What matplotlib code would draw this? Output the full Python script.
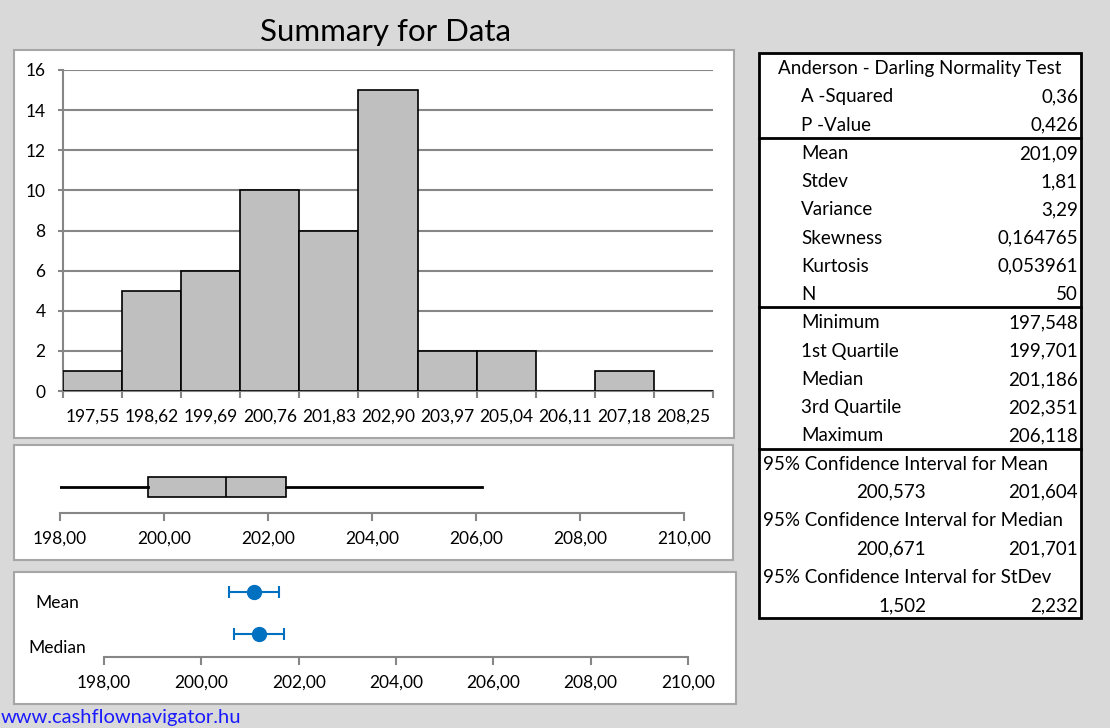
import matplotlib
matplotlib.use("Agg")
import matplotlib.pyplot as plt
from matplotlib.patches import Rectangle
from matplotlib.lines import Line2D

plt.rcParams['font.family'] = ['Lato', 'DejaVu Sans']

# ---------------- data ----------------
bin_labels = ["197,55", "198,62", "199,69", "200,76", "201,83", "202,90",
              "203,97", "205,04", "206,11", "207,18", "208,25"]
bin_counts = [1, 5, 6, 10, 8, 15, 2, 2, 0, 1, 0]

box_min = 197.548
box_q1 = 199.701
box_median = 201.186
box_q3 = 202.351
box_max = 206.118

ci_names = ["Mean", "Median"]
ci_centers = [201.09, 201.186]
ci_low = [200.573, 200.671]
ci_high = [201.604, 201.701]

axis_ticks = [198, 200, 202, 204, 206, 208, 210]

table_rows = [
    ("header", "Anderson - Darling Normality Test", ""),
    ("row", "A -Squared", "0,36"),
    ("row", "P -Value", "0,426"),
    ("row", "Mean", "201,09"),
    ("row", "Stdev", "1,81"),
    ("row", "Variance", "3,29"),
    ("row", "Skewness", "0,164765"),
    ("row", "Kurtosis", "0,053961"),
    ("row", "N", "50"),
    ("row", "Minimum", "197,548"),
    ("row", "1st Quartile", "199,701"),
    ("row", "Median", "201,186"),
    ("row", "3rd Quartile", "202,351"),
    ("row", "Maximum", "206,118"),
    ("ci", "95% Confidence Interval for Mean", ""),
    ("civ", "200,573", "201,604"),
    ("ci", "95% Confidence Interval for Median", ""),
    ("civ", "200,671", "201,701"),
    ("ci", "95% Confidence Interval for StDev", ""),
    ("civ", "1,502", "2,232"),
]
separators_after = [2, 8, 13]

# ---------------- layout helpers ----------------
W, H = 1110, 728
fig = plt.figure(figsize=(W / 100, H / 100), dpi=100)
fig.patch.set_facecolor("#d9d9d9")


def fx(x):
    return x / W


def fy(y):
    return 1 - y / H


def panel(x0, y0, x1, y1):
    fig.patches.append(Rectangle((fx(x0), fy(y1)), fx(x1) - fx(x0), fy(y0) - fy(y1),
                                 transform=fig.transFigure, facecolor="white",
                                 edgecolor="#a6a6a6", linewidth=1.5, zorder=-5))


def add_axes(x0, y0, x1, y1):
    a = fig.add_axes([fx(x0), fy(y1), fx(x1) - fx(x0), fy(y0) - fy(y1)])
    a.set_zorder(2)
    return a


GRAY = "#868686"
TXT = 12.5

# title
fig.text(fx(385), fy(32), "Summary for Data", ha="center", va="center", fontsize=22.5)

# ---------------- histogram ----------------
panel(14, 50, 734, 438)
ax = add_axes(63, 70, 713, 391)
ax.set_facecolor("white")
xs = list(range(len(bin_counts)))
ax.bar(xs, bin_counts, width=1.0, color="#bfbfbf", edgecolor="black", linewidth=1.2, zorder=3)
ax.set_xlim(-0.5, len(bin_counts) - 0.5)
ax.set_ylim(0, 16)
ax.set_yticks(range(0, 17, 2))
ax.yaxis.grid(True, color=GRAY, linewidth=1.5)
ax.set_axisbelow(True)
ax.set_xticks([i - 0.5 for i in range(len(bin_counts) + 1)])
ax.set_xticklabels([])
ax.set_xticks(xs, minor=True)
ax.set_xticklabels(bin_labels, minor=True)
ax.tick_params(axis="x", which="major", direction="out", length=5, color=GRAY, width=1.5)
ax.tick_params(axis="x", which="minor", length=0, pad=12.5, labelsize=TXT)
ax.tick_params(axis="y", direction="out", length=3.6, color=GRAY, width=1.5, labelsize=TXT, pad=9)
for s in ["top", "right"]:
    ax.spines[s].set_visible(False)
for s in ["left", "bottom"]:
    ax.spines[s].set_color(GRAY)
    ax.spines[s].set_linewidth(1.5)

# ---------------- box plot ----------------
panel(14, 445, 733, 560)
bx = add_axes(60, 463, 684, 513)
stats = [dict(med=box_median, q1=box_q1, q3=box_q3, whislo=box_min, whishi=box_max)]
bx.bxp(stats, positions=[0.52], widths=0.4, orientation="horizontal", showfliers=False,
       showcaps=False, patch_artist=True,
       boxprops=dict(facecolor="#bfbfbf", edgecolor="black", linewidth=1.2),
       medianprops=dict(color="black", linewidth=1.2),
       whiskerprops=dict(color="black", linewidth=2))
bx.set_xlim(axis_ticks[0], axis_ticks[-1])
bx.set_ylim(0, 1)
bx.set_yticks([])
bx.set_xticks(axis_ticks)
bx.set_xticklabels([f"{t:.2f}".replace(".", ",") for t in axis_ticks])
bx.tick_params(axis="x", direction="out", length=6, color=GRAY, width=1.5, labelsize=TXT, pad=7)
for s in ["top", "right", "left"]:
    bx.spines[s].set_visible(False)
bx.spines["bottom"].set_color(GRAY)
bx.spines["bottom"].set_linewidth(1.5)
bx.patch.set_visible(False)

# ---------------- CI plot ----------------
panel(14, 572, 736, 704)
cx = add_axes(104, 580, 688, 657)
ypos = [0.844, 0.30]
for c, lo, hi, yv in zip(ci_centers, ci_low, ci_high, ypos):
    cx.errorbar([c], [yv], xerr=[[c - lo], [hi - c]], fmt="o", color="#0070c0",
                markersize=10, capsize=4, elinewidth=1.5, capthick=1.5)
cx.set_xlim(axis_ticks[0], axis_ticks[-1])
cx.set_ylim(0, 1)
cx.set_yticks([])
cx.set_xticks(axis_ticks)
cx.set_xticklabels([f"{t:.2f}".replace(".", ",") for t in axis_ticks])
cx.tick_params(axis="x", direction="out", length=6, color=GRAY, width=1.5, labelsize=TXT, pad=7)
for s in ["top", "right", "left"]:
    cx.spines[s].set_visible(False)
cx.spines["bottom"].set_color(GRAY)
cx.spines["bottom"].set_linewidth(1.5)
cx.patch.set_visible(False)
fig.text(fx(35), fy(603), ci_names[0], ha="left", va="center", fontsize=TXT)
fig.text(fx(28), fy(648), ci_names[1], ha="left", va="center", fontsize=TXT)

# ---------------- table ----------------
tx0, tx1, ty0, ty1 = 759, 1081, 53, 618
fig.patches.append(Rectangle((fx(tx0), fy(ty1)), fx(tx1) - fx(tx0), fy(ty0) - fy(ty1),
                             transform=fig.transFigure, facecolor="white",
                             edgecolor="black", linewidth=2, zorder=-5))
row_h = (ty1 - ty0) / len(table_rows)
TS = 13.5
for i, (kind, a, b) in enumerate(table_rows):
    yc = ty0 + row_h * (i + 0.5) + 1.5
    kw = dict(va="center", fontsize=TS)
    if kind == "header":
        fig.text(fx((tx0 + tx1) / 2), fy(yc), a, ha="center", **kw)
    elif kind == "row":
        fig.text(fx(801), fy(yc), a, ha="left", **kw)
        fig.text(fx(1078), fy(yc), b, ha="right", **kw)
    elif kind == "ci":
        fig.text(fx(763), fy(yc), a, ha="left", **kw)
    else:
        fig.text(fx(926), fy(yc), a, ha="right", **kw)
        fig.text(fx(1078), fy(yc), b, ha="right", **kw)
for k in separators_after:
    ys = ty0 + row_h * (k + 1)
    fig.lines.append(Line2D([fx(tx0), fx(tx1)], [fy(ys), fy(ys)], transform=fig.transFigure,
                            color="black", linewidth=2))

# footer
fig.text(fx(1), fy(726), "www.cashflownavigator.hu", ha="left", va="bottom",
         fontsize=14.5, color="#1a1aff")

fig.savefig("out.png", dpi=100, facecolor=fig.get_facecolor())
